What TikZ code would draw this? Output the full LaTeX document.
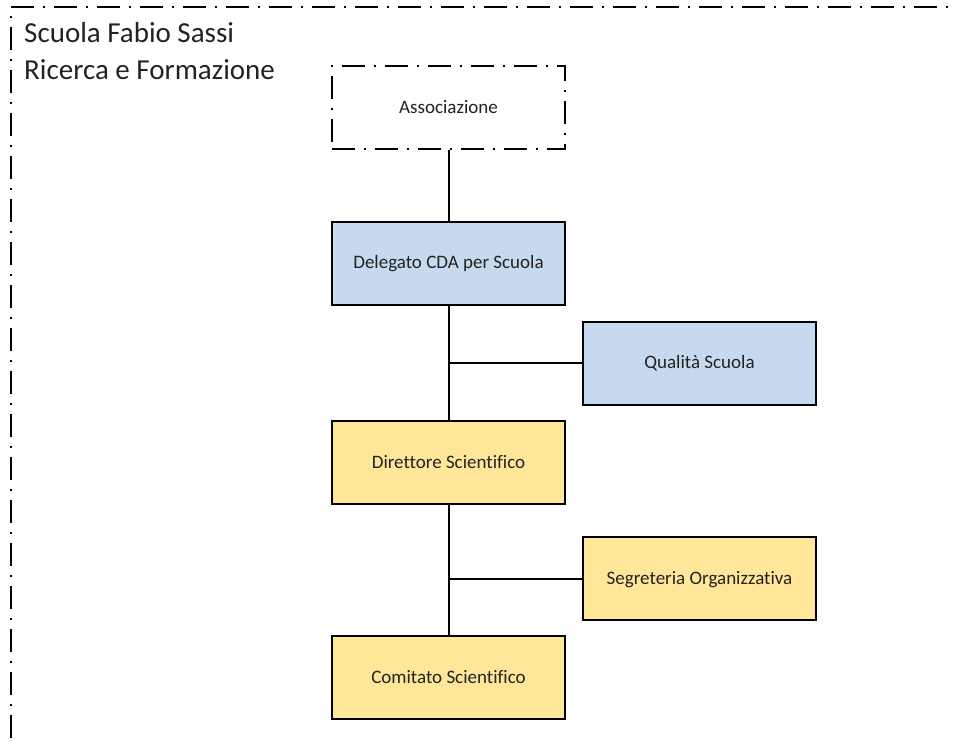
\documentclass[tikz,border=0pt]{standalone}
\usepackage{fontspec}
\setmainfont{Carlito}[Ligatures={NoCommon}]
\definecolor{boxblue}{HTML}{C5DAEE}
\definecolor{boxyellow}{HTML}{FFE699}
\definecolor{txt}{HTML}{222222}
\begin{document}
\begin{tikzpicture}[x=1pt,y=-1pt,
  orgbox/.style={draw=black,line width=2pt,minimum width=233pt,minimum height=83pt,inner sep=0pt,text=txt,font=\fontsize{19}{22}\selectfont,text depth=2pt},
  bluebox/.style={orgbox,fill=boxblue},
  yellowbox/.style={orgbox,fill=boxyellow},
  dashdot/.style={line width=2pt,dash pattern=on 23pt off 9pt on 2pt off 9pt},
  conn/.style={line width=2pt}]
\useasboundingbox (0,0) rectangle (957,746);
\clip (0,0) rectangle (957,746);
\coordinate (fa) at (11,7);
\coordinate (fb) at (980,7);
\coordinate (fc) at (11,780);
\draw[dashdot] (fb) -- (fa) -- (fc);
\node[anchor=north west,align=left,inner sep=0pt,text=txt,font=\fontsize{29}{37}\selectfont] (title) at (24,22) {Scuola Fabio Sassi\\Ricerca e Formazione};
\node[orgbox,dashdot,draw=black,fill=white] (assoc) at (448.5,107.5) {Associazione};
\node[bluebox] (deleg) at (448.5,263) {Delegato CDA per Scuola};
\node[bluebox] (qual) at (699.5,363) {Qualità Scuola};
\node[yellowbox] (dir) at (448.5,462.5) {Direttore Scientifico};
\node[yellowbox] (segr) at (699.5,578.5) {Segreteria Organizzativa};
\node[yellowbox] (com) at (448.5,677.5) {Comitato Scientifico};
\coordinate (j1) at (deleg.south |- qual.west);
\coordinate (j2) at (dir.south |- segr.west);
\draw[conn] (assoc) -- (deleg);
\draw[conn] (deleg) -- (dir);
\draw[conn] (j1) -- (qual);
\draw[conn] (dir) -- (com);
\draw[conn] (j2) -- (segr);
\end{tikzpicture}
\end{document}
